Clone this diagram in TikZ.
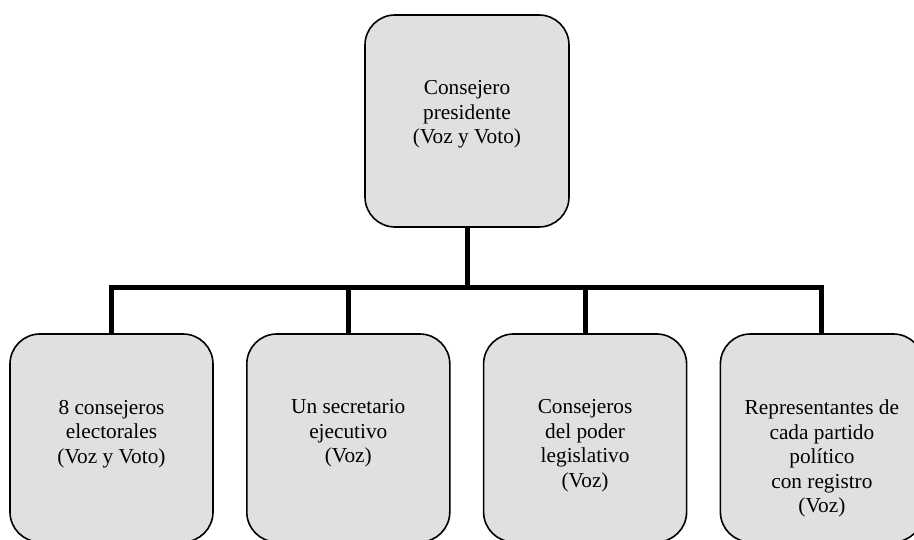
\documentclass[tikz,border=0pt]{standalone}
\usepackage{fontspec}
\setmainfont{Liberation Serif}
\usetikzlibrary{positioning}
\definecolor{boxgray}{RGB}{224,224,224}
\begin{document}
\begin{tikzpicture}[x=1pt, y=1pt, node distance=236.8pt, align=center,
  box/.style={draw, line width=1.6pt, rounded corners=30pt, fill=boxgray, minimum width=203pt, minimum height=208pt, inner sep=0pt},
  boxtext/.style={anchor=north, yshift=-66.5pt, inner sep=0pt, align=center, font=\fontsize{21.3}{24.5}\selectfont},
  bar/.style={line width=5pt}]
\useasboundingbox (0,0) rectangle (914,540);

% Nodes
\node (cp) [box, minimum height=212pt, minimum width=204pt] at (467,419) {};
\node (ce) [box] at (111.5,102) {};
\node (se) [right of=ce, box] {};
\node (pl) [right of=se, box] {};
\node (rp) [right of=pl, box] {};

% Texts
\node (tcp) [boxtext] at (cp.north) {Consejero \\ presidente \\ (Voz y Voto)};
\node (tce) [boxtext] at (ce.north) {8 consejeros \\ electorales \\ (Voz y Voto)};
\node (tse) [boxtext] at (se.north) {Un secretario \\ ejecutivo \\ (Voz)};
\node (tpl) [boxtext] at (pl.north) {Consejeros \\ del poder \\ legislativo \\ (Voz)};
\node (trp) [boxtext] at (rp.north) {Representantes de \\ cada partido \\ pol\'{\i}tico \\ con registro \\ (Voz)};

% Lines
\coordinate (bus) at (0,252);
\draw[bar] (cp.south) -- (cp.south |- bus);
\draw[bar] (ce.north) -- (ce.north |- bus) -- (rp.north |- bus) -- (rp.north);
\foreach \b in {se, pl}
  \draw[bar] (\b.north) -- (\b.north |- bus);

\end{tikzpicture}
\end{document}
